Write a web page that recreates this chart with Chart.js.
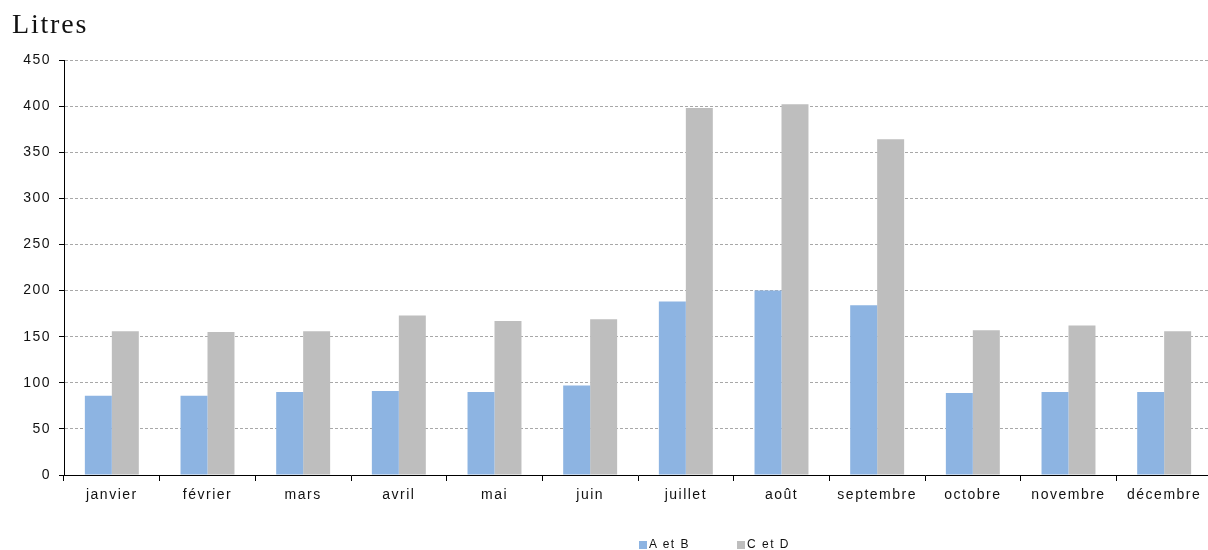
<!DOCTYPE html>
<html>
<head>
<meta charset="utf-8">
<script src="https://cdn.jsdelivr.net/npm/chart.js@4/dist/chart.umd.min.js"></script>
<style>
  html, body { margin: 0; padding: 0; background: #fff; overflow: hidden; }
  #wrap { position: relative; width: 1208px; height: 550px; overflow: hidden; }
  #chart { position: absolute; left: 0; top: 0; }
  #title {
    position: absolute; left: 12px; top: 10px;
    font-family: "Liberation Serif", serif; font-size: 28px; line-height: 28px;
    letter-spacing: 1.8px; color: #111;
  }
  #legend {
    position: absolute; top: 538px; left: 0;
    font-family: "Liberation Sans", Arial, sans-serif; font-size: 12px; line-height: 12px;
    letter-spacing: 1.5px; color: #111;
  }
  .item { position: absolute; top: 0; white-space: nowrap; display: flex; align-items: flex-end; }
  .box { width: 8px; height: 8px; margin-right: 2px; margin-bottom: 1px; }
</style>
</head>
<body>
<div id="wrap">
  <canvas id="chart" width="1212" height="550"></canvas>
  <div id="title">Litres</div>
  <div id="legend"></div>
</div>
<script>
// Monthly volumes, in litres
const months = ['janvier', 'février', 'mars', 'avril', 'mai', 'juin',
                'juillet', 'août', 'septembre', 'octobre', 'novembre', 'décembre'];
const seriesNames = ['A et B', 'C et D'];
const valuesAB = [86, 86, 90, 91, 90, 97, 188, 200, 184, 89, 90, 90];
const valuesCD = [156, 155, 156, 173, 167, 169, 398, 402, 364, 157, 162, 156];
const yTicks = [0, 50, 100, 150, 200, 250, 300, 350, 400, 450];

const colours = ['#8db4e2', '#bebebe'];

// Slightly spaced tick lettering
const spacing = {
  id: 'spacing',
  beforeUpdate(chart) { chart.ctx.letterSpacing = '1.5px'; },
  beforeLayout(chart) { chart.ctx.letterSpacing = '1.5px'; },
  beforeDraw(chart) { chart.ctx.letterSpacing = '1.5px'; }
};

const chart = new Chart(document.getElementById('chart'), {
  type: 'bar',
  data: {
    labels: months,
    datasets: [
      { label: seriesNames[0], data: valuesAB, backgroundColor: colours[0] },
      { label: seriesNames[1], data: valuesCD, backgroundColor: colours[1] }
    ]
  },
  options: {
    responsive: false,
    animation: false,
    categoryPercentage: 0.564,
    barPercentage: 1,
    layout: { padding: { top: 60, right: 0, bottom: 0, left: 0 } },
    plugins: {
      legend: { display: false },
      tooltip: { enabled: false }
    },
    scales: {
      x: {
        afterFit(axis) { axis.height = 75; },
        grid: {
          display: true, drawOnChartArea: false, drawTicks: true,
          tickLength: 6, tickColor: '#000', offset: true
        },
        border: { display: true, color: '#000', width: 1 },
        ticks: {
          color: '#111', padding: 6, maxRotation: 0, autoSkip: false,
          font: { family: '"Liberation Sans", Arial, sans-serif', size: 14 }
        }
      },
      y: {
        min: yTicks[0],
        max: yTicks[yTicks.length - 1],
        afterFit(axis) { axis.width = 64; },
        afterBuildTicks(axis) { axis.ticks = yTicks.map(v => ({ value: v })); },
        grid: {
          color: c => (c.tick && c.tick.value === 0) ? 'rgba(0,0,0,0)' : '#a8a8a8',
          lineWidth: 1,
          drawTicks: true, tickLength: 5, tickColor: '#000', tickBorderDash: []
        },
        border: { display: true, color: '#000', width: 1, dash: [3, 2] },
        ticks: {
          color: '#111', padding: 8,
          font: { family: '"Liberation Sans", Arial, sans-serif', size: 14 }
        }
      }
    }
  },
  plugins: [spacing]
});

// Legend below the plot
const legendEl = document.getElementById('legend');
const legendX = [639, 737];
seriesNames.forEach((name, i) => {
  const item = document.createElement('div');
  item.className = 'item';
  item.style.left = legendX[i] + 'px';
  const box = document.createElement('span');
  box.className = 'box';
  box.style.background = colours[i];
  const txt = document.createElement('span');
  txt.textContent = name;
  item.appendChild(box);
  item.appendChild(txt);
  legendEl.appendChild(item);
});
</script>
</body>
</html>
